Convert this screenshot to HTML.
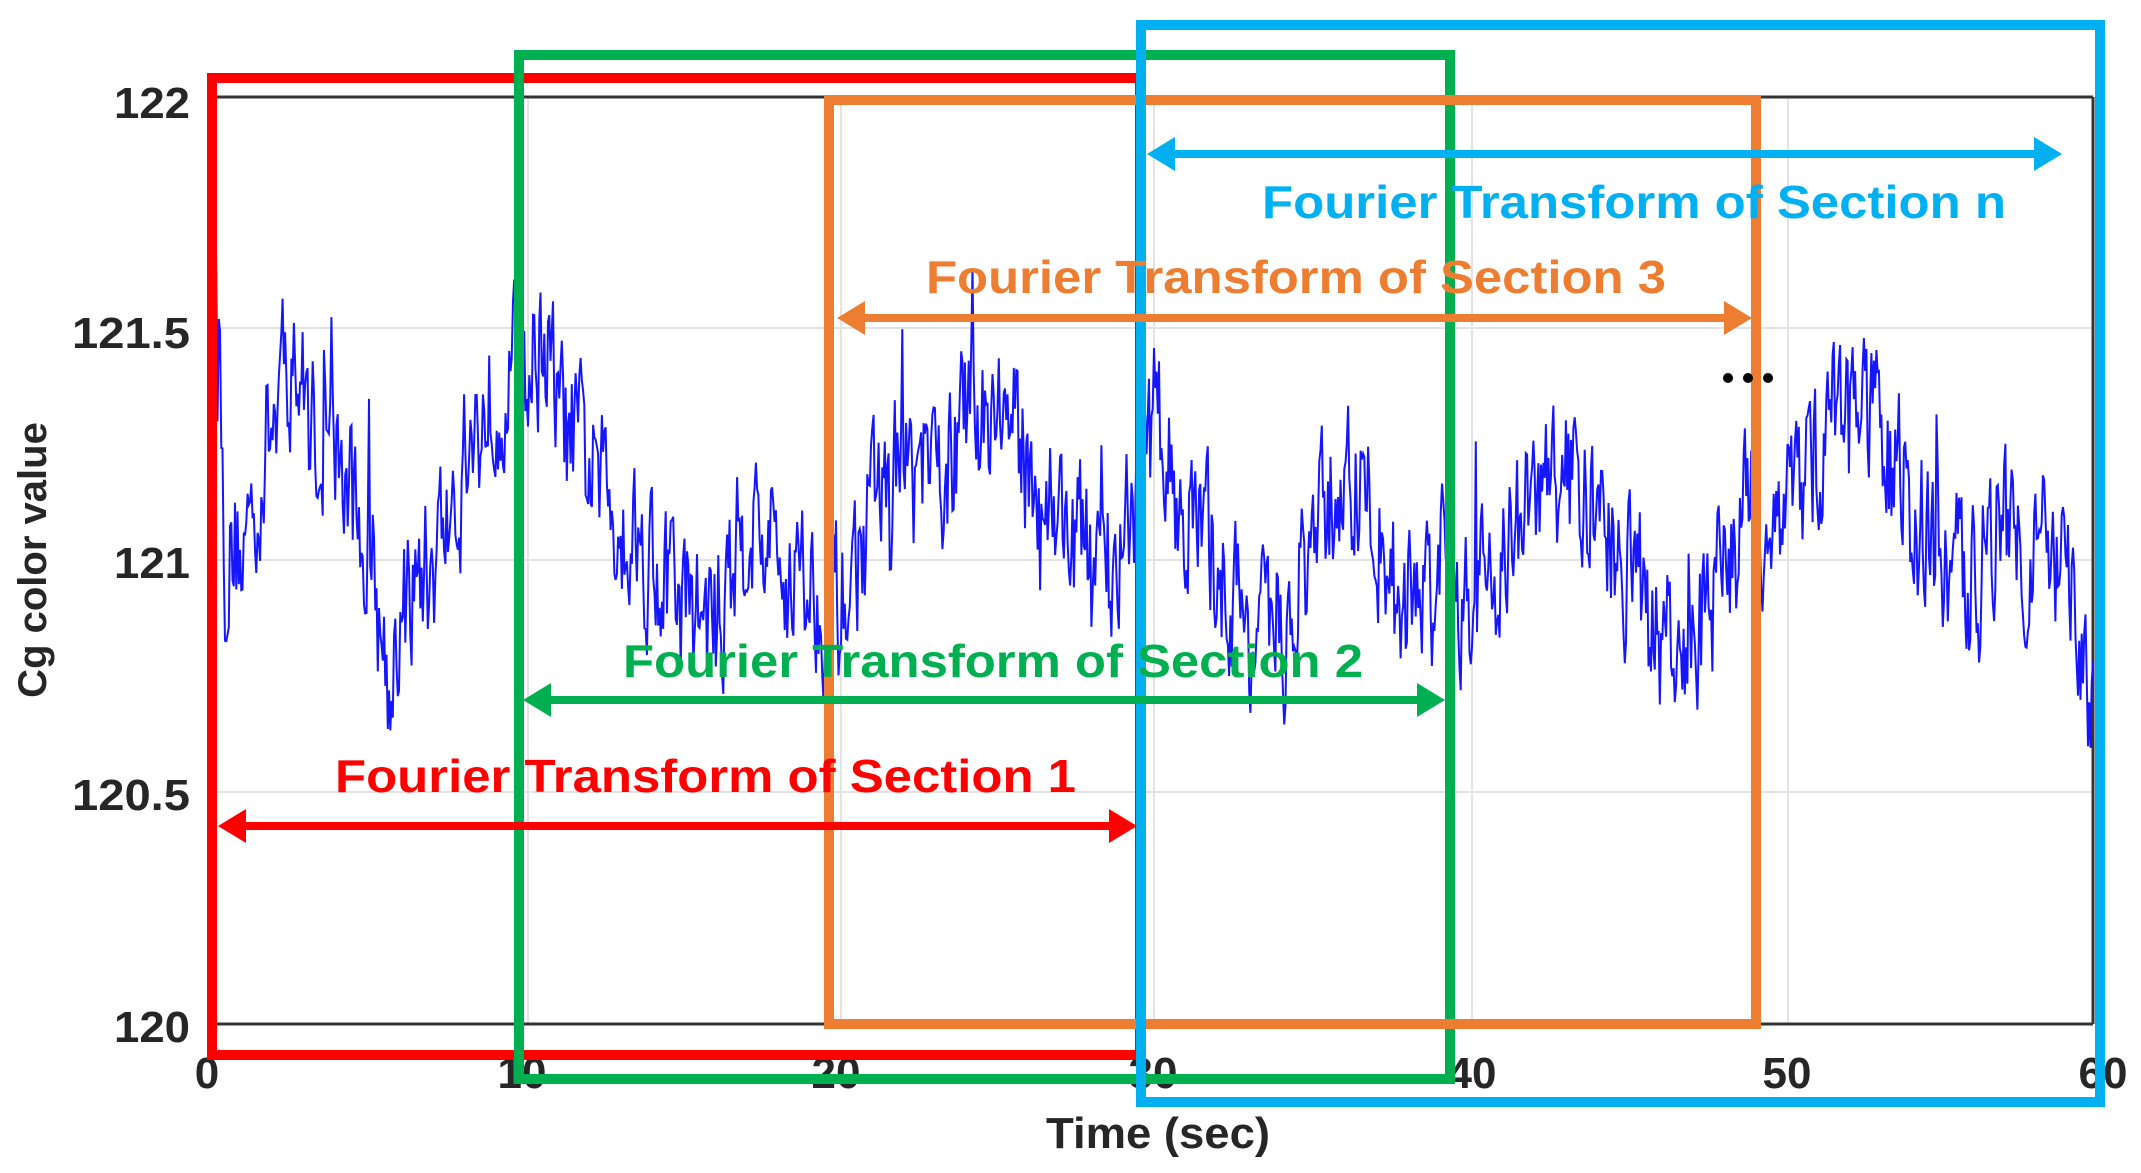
<!DOCTYPE html>
<html><head><meta charset="utf-8"><style>
html,body{margin:0;padding:0;background:#fff;}
svg{display:block;}
text{font-family:"Liberation Sans",sans-serif;font-weight:bold;}
</style></head><body>
<svg id="s" width="2141" height="1173" viewBox="0 0 2141 1173" xmlns="http://www.w3.org/2000/svg">
<rect width="2141" height="1173" fill="#fff"/>
<g stroke="#e3e3e3" stroke-width="2">
<line x1="215" y1="328" x2="2093" y2="328"/><line x1="215" y1="560" x2="2093" y2="560"/><line x1="215" y1="792" x2="2093" y2="792"/>
<line x1="528" y1="97" x2="528" y2="1024"/><line x1="841" y1="97" x2="841" y2="1024"/><line x1="1154" y1="97" x2="1154" y2="1024"/><line x1="1472" y1="97" x2="1472" y2="1024"/><line x1="1788" y1="97" x2="1788" y2="1024"/>
</g>
<g stroke="#333" stroke-width="3" fill="none">
<line x1="215" y1="97" x2="2093" y2="97"/><line x1="215" y1="1024" x2="2093" y2="1024"/><line x1="2093" y1="97" x2="2093" y2="1024"/><line x1="215" y1="97" x2="215" y2="1024"/>
</g>
<path id="sig" fill="none" stroke="#1515ff" stroke-width="2"/>
<g font-size="44" fill="#262626" text-anchor="end">
<text x="190" y="118" textLength="76" lengthAdjust="spacingAndGlyphs">122</text><text x="190" y="348" textLength="118" lengthAdjust="spacingAndGlyphs">121.5</text><text x="190" y="578" textLength="76" lengthAdjust="spacingAndGlyphs">121</text><text x="190" y="810" textLength="118" lengthAdjust="spacingAndGlyphs">120.5</text><text x="190" y="1042" textLength="76" lengthAdjust="spacingAndGlyphs">120</text>
</g>
<g font-size="44" fill="#262626" text-anchor="middle">
<text x="207" y="1088">0</text><text x="522" y="1088">10</text><text x="836" y="1088">20</text><text x="1153" y="1088">30</text><text x="1472" y="1088">40</text><text x="1787" y="1088">50</text><text x="2103" y="1088">60</text>
<text x="1158" y="1148" textLength="224" lengthAdjust="spacingAndGlyphs">Time (sec)</text>
<text transform="translate(46,560) rotate(-90)" font-size="40">Cg color value</text>
</g>
<g fill="none" stroke-width="10">
<rect x="212" y="78" width="928" height="977" stroke="#ff0000"/>
<rect x="519" y="55" width="931" height="1024" stroke="#00b050"/>
<rect x="829" y="100" width="927" height="924" stroke="#ed7d31"/>
<rect x="1141" y="25" width="959" height="1077" stroke="#00b0f0"/>
</g>
<g id="arrows"></g>
<g font-size="46" text-anchor="start">
<text x="1262" y="218" fill="#00b0f0" textLength="744" lengthAdjust="spacingAndGlyphs">Fourier Transform of Section n</text>
<text x="926" y="293" fill="#ed7d31" textLength="740" lengthAdjust="spacingAndGlyphs">Fourier Transform of Section 3</text>
<text x="623" y="677" fill="#00b050" textLength="740" lengthAdjust="spacingAndGlyphs">Fourier Transform of Section 2</text>
<text x="335" y="792" fill="#ff0000" textLength="741" lengthAdjust="spacingAndGlyphs">Fourier Transform of Section 1</text>
</g>
<g fill="#000"><circle cx="1728" cy="378" r="5"/><circle cx="1748" cy="378" r="5"/><circle cx="1768" cy="378" r="5"/></g>
</svg>
<script>
(function(){
var ns="http://www.w3.org/2000/svg";
function X(t){return 215+t*31.3;}
function Y(v){return 97+(122-v)*463.5;}
var k=[[0,121.9],[0.3,121.0],[1,121.05],[2,121.35],[2.5,121.45],[3,121.3],[4,121.2],[5,121.0],[5.5,120.75],[6,120.9],[7,121.0],[8,121.2],[9,121.4],[10,121.4],[10.5,121.5],[11,121.3],[12,121.2],[13,121.1],[14,121.0],[15,120.9],[16,120.85],[17,121.1],[18,121.0],[19,120.95],[20,120.9],[21,121.1],[22,121.2],[23,121.15],[24,121.3],[25,121.35],[26,121.2],[27,121.1],[28,121.0],[29,121.0],[30,121.3],[31,121.1],[32,121.0],[33,120.85],[34,120.8],[35,121.0],[36,121.2],[37,121.1],[38,120.9],[39,121.0],[40,120.9],[41,121.0],[42,121.1],[43,121.2],[44,121.1],[45,121.0],[46,120.85],[47,120.75],[48,120.95],[49,121.1],[50,121.1],[51,121.2],[52,121.35],[53,121.3],[54,121.15],[55,121.0],[56,120.95],[57,121.1],[58,121.05],[59,120.95],[60,120.7]];
function base(t){for(var i=0;i<k.length-1;i++){if(t<=k[i+1][0]){var a=k[i],b=k[i+1],f=(t-a[0])/(b[0]-a[0]);return a[1]+(b[1]-a[1])*f;}}return k[k.length-1][1];}
var seed=12345;function r(){seed=(seed*16807)%2147483647;return seed/2147483647;}
var d="",n=1500,ar=0;
for(var i=0;i<=n;i++){var t=i*60/n;ar=0.45*ar+(r()-0.5)*0.3;var sp=(r()<0.04)?(r()-0.35)*0.35:0;var v=base(t)+ar+sp;if(i<3)v=121.9-i*0.3;d+=(i?"L":"M")+X(t).toFixed(1)+" "+Y(v).toFixed(1);}
document.getElementById("sig").setAttribute("d",d);
var g=document.getElementById("arrows");
function arrow(x1,x2,y,c){var h=28,w=17,lw=4;
var p=document.createElementNS(ns,"path");
p.setAttribute("d","M"+x1+" "+y+"L"+(x1+h)+" "+(y-w)+"L"+(x1+h)+" "+(y-lw)+"L"+(x2-h)+" "+(y-lw)+"L"+(x2-h)+" "+(y-w)+"L"+x2+" "+y+"L"+(x2-h)+" "+(y+w)+"L"+(x2-h)+" "+(y+lw)+"L"+(x1+h)+" "+(y+lw)+"L"+(x1+h)+" "+(y+w)+"Z");
p.setAttribute("fill",c);g.appendChild(p);}
arrow(1147,2062,154,"#00b0f0");arrow(837,1752,318,"#ed7d31");arrow(523,1445,700,"#00b050");arrow(218,1137,826,"#ff0000");
})();
</script>
</body></html>
